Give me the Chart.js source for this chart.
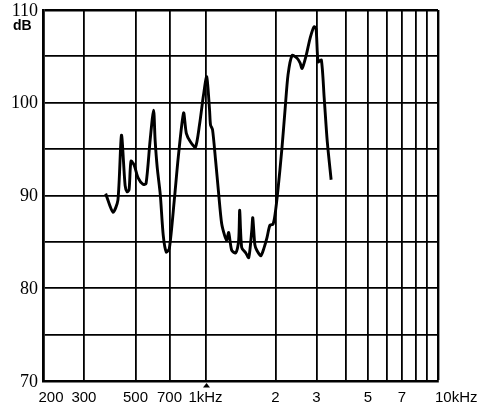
<!DOCTYPE html>
<html>
<head>
<meta charset="utf-8">
<script src="https://cdn.jsdelivr.net/npm/chart.js@4"></script>
<style>
  body { margin: 0; background: #fff; }
</style>
</head>
<body>
<canvas id="myChart" width="497" height="408"></canvas>
<script>
// frequency (Hz) and level (dB)
const freqs = [372, 400, 420, 435, 451, 460, 469, 478, 493, 513, 539, 555, 578, 598, 607, 620, 639, 658, 678, 699, 734, 764, 805, 827, 861, 905, 942, 980, 1012, 1041, 1051, 1072, 1105, 1138, 1173, 1208, 1233, 1258, 1296, 1348, 1389, 1403, 1431, 1490, 1535, 1582, 1597, 1630, 1662, 1730, 1783, 1836, 1893, 1951, 1990, 2049, 2132, 2198, 2264, 2357, 2478, 2551, 2604, 2710, 2820, 2930, 2990, 3050, 3150, 3240, 3340, 3470];
const levels = [90.2, 88.2, 89.5, 96.5, 91.1, 90.4, 90.6, 93.7, 93.3, 91.9, 91.2, 91.3, 96.0, 99.2, 96.0, 93.0, 90.1, 85.7, 83.9, 84.3, 89.5, 94.2, 98.9, 96.7, 95.8, 95.2, 97.6, 100.8, 102.8, 99.2, 97.6, 97.1, 93.8, 90.3, 87.0, 85.7, 85.2, 86.0, 84.1, 83.8, 85.2, 88.4, 84.4, 83.8, 83.3, 86.3, 87.6, 84.7, 84.1, 83.5, 84.3, 85.4, 86.8, 86.9, 87.9, 90.6, 95.1, 99.2, 103.0, 105.1, 104.8, 104.3, 103.7, 105.1, 107.0, 108.2, 107.95, 104.4, 104.6, 100.5, 95.8, 91.7];

const xGrid = [200, 300, 500, 700, 1000, 2000, 3000, 4000, 5000, 6000, 7000, 8000, 9000, 10000];
const xLabelValues = [200, 300, 500, 700, 1000, 2000, 3000, 5000, 7000, 10000];
const xLabels = ["200", "300", "500", "700", "1kHz", "2", "3", "5", "7", "10kHz"];
const yLabelValues = [70, 80, 90, 100, 110];

const ctx = document.getElementById("myChart");

// tick labels drawn by hand so each one can sit where the original has it
const labelPlugin = {
  id: "labels",
  afterDraw(chart) {
    const c = chart.ctx;
    const xs = chart.scales.x;
    const ys = chart.scales.y;
    c.save();
    c.fillStyle = "#000";
    c.textBaseline = "alphabetic";
    c.font = "15px 'Liberation Sans', Arial, sans-serif";
    xLabelValues.forEach((v, i) => {
      let px = xs.getPixelForValue(v);
      c.textAlign = "center";
      if (v === 200) px += 8;
      if (v === 10000) {
        c.textAlign = "left";
        px -= 3;
      }
      c.fillText(xLabels[i], px, ys.bottom + 21);
    });
    // small marker under 1kHz
    const mx = xs.getPixelForValue(1000) + 1;
    c.beginPath();
    c.moveTo(mx, ys.bottom + 2);
    c.lineTo(mx - 3.5, ys.bottom + 6.5);
    c.lineTo(mx + 3.5, ys.bottom + 6.5);
    c.closePath();
    c.fill();

    c.font = "18px 'Liberation Serif', 'Times New Roman', serif";
    c.textAlign = "right";
    c.textBaseline = "middle";
    yLabelValues.forEach((v) => {
      c.fillText(String(v), xs.left - 5, ys.getPixelForValue(v) + 1);
    });
    c.font = "bold 14px 'Liberation Sans', Arial, sans-serif";
    c.textAlign = "left";
    c.textBaseline = "alphabetic";
    c.fillText("dB", 13, 30);
    c.restore();
  },
};

new Chart(ctx, {
  type: "line",
  data: {
    datasets: [
      {
        data: freqs.map((f, i) => ({ x: f, y: levels[i] })),
        borderColor: "#000",
        borderWidth: 2.9,
        pointRadius: 0,
        tension: 0.25,
        fill: false,
      },
    ],
  },
  options: {
    responsive: false,
    animation: false,
    devicePixelRatio: 1,
    layout: {
      padding: { left: 43, top: 10, right: 59, bottom: 27 },
    },
    plugins: {
      legend: { display: false },
      tooltip: { enabled: false },
    },
    scales: {
      x: {
        type: "logarithmic",
        min: 200,
        max: 10000,
        afterBuildTicks: (scale) => {
          scale.ticks = xGrid.map((v) => ({ value: v }));
        },
        ticks: { display: false },
        grid: {
          color: "#000",
          lineWidth: (c) => (c.tick && c.tick.value === 10000 ? 2.4 : 1.8),
          drawTicks: false,
        },
        border: { display: true, color: "#000", width: 2.4 },
      },
      y: {
        min: 70,
        max: 110,
        ticks: { display: false, stepSize: 5 },
        grid: {
          color: "#000",
          lineWidth: (c) => (c.tick && c.tick.value === 110 ? 2.4 : 1.8),
          drawTicks: false,
        },
        border: { display: true, color: "#000", width: 2.8 },
      },
    },
  },
  plugins: [labelPlugin],
});
</script>
</body>
</html>
